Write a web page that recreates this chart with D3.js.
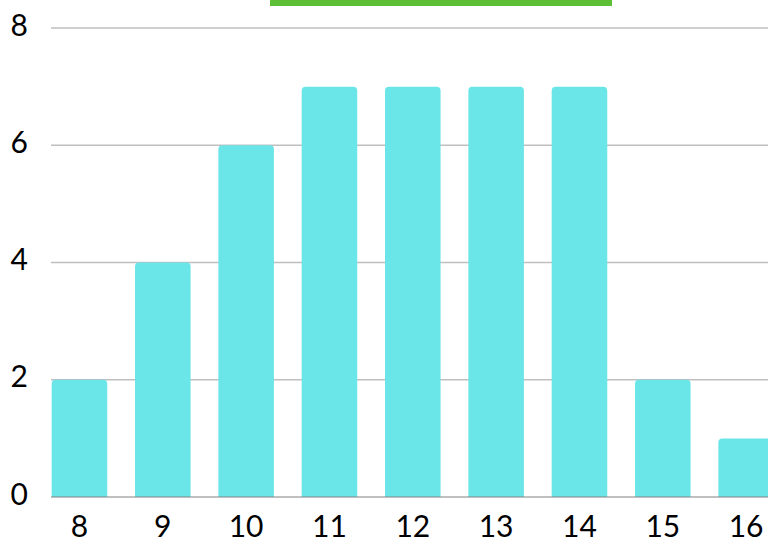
<!DOCTYPE html>
<html>
<head>
<meta charset="utf-8">
<script src="https://cdn.jsdelivr.net/npm/d3@7"></script>
<style>
  body { margin: 0; background: #fff; }
  svg { display: block; }
</style>
</head>
<body>
<div class="chart"></div>
<script>
// bar chart, values
var categories = ["8", "9", "10", "11", "12", "13", "14", "15", "16"];
var counts = [2, 4, 6, 7, 7, 7, 7, 2, 1];
var yTicks = [0, 2, 4, 6, 8];

var width = 768,
  height = 540;

var svg = d3.select(".chart").append("svg")
  .attr("width", width)
  .attr("height", height);

// plot area runs past the right edge of the window, like the reference
var x = d3.scaleBand()
  .domain(categories)
  .range([37.8, 787.8])
  .paddingInner(1 / 3)
  .paddingOuter(1 / 6);

var y = d3.scaleLinear()
  .domain([0, 8])
  .range([497, 28]);

// green strip at the top (cut off title bar)
svg.append("rect")
  .attr("x", 270)
  .attr("y", -10)
  .attr("width", 342)
  .attr("height", 16)
  .attr("fill", "#5cbf36");

// gridlines
svg.append("g").selectAll("line")
  .data(yTicks.filter(function(d) { return d > 0; }))
  .enter().append("line")
  .attr("x1", 51)
  .attr("x2", width)
  .attr("y1", function(d) { return y(d); })
  .attr("y2", function(d) { return y(d); })
  .attr("stroke", "#bfbfbf")
  .attr("stroke-width", 1.5);

// bars with rounded tops
var r = 4;
svg.append("g").selectAll("path")
  .data(categories)
  .enter().append("path")
  .attr("fill", "#6ae5e8")
  .attr("d", function(d, i) {
    var x0 = x(d), w = x.bandwidth(), top = y(counts[i]), bot = y(0);
    return "M" + x0 + "," + bot +
      "V" + (top + r) +
      "Q" + x0 + "," + top + " " + (x0 + r) + "," + top +
      "H" + (x0 + w - r) +
      "Q" + (x0 + w) + "," + top + " " + (x0 + w) + "," + (top + r) +
      "V" + bot + "Z";
  });

// baseline
svg.append("line")
  .attr("x1", 51)
  .attr("x2", width)
  .attr("y1", y(0))
  .attr("y2", y(0))
  .attr("stroke", "#808080")
  .attr("stroke-width", 1);

// y tick labels
svg.append("g").selectAll("text")
  .data(yTicks)
  .enter().append("text")
  .attr("x", 28)
  .attr("y", function(d) { return y(d) + 7.5; })
  .attr("text-anchor", "end")
  .attr("font-family", "Lato, 'Open Sans', sans-serif")
  .attr("font-size", 30)
  .attr("fill", "#000")
  .text(function(d) { return d; });

// x tick labels
svg.append("g").selectAll("text")
  .data(categories)
  .enter().append("text")
  .attr("x", function(d) { return x(d) + x.bandwidth() / 2; })
  .attr("y", 537)
  .attr("text-anchor", "middle")
  .attr("font-family", "Lato, 'Open Sans', sans-serif")
  .attr("font-size", 30)
  .attr("fill", "#000")
  .text(function(d) { return d; });
</script>
</body>
</html>
